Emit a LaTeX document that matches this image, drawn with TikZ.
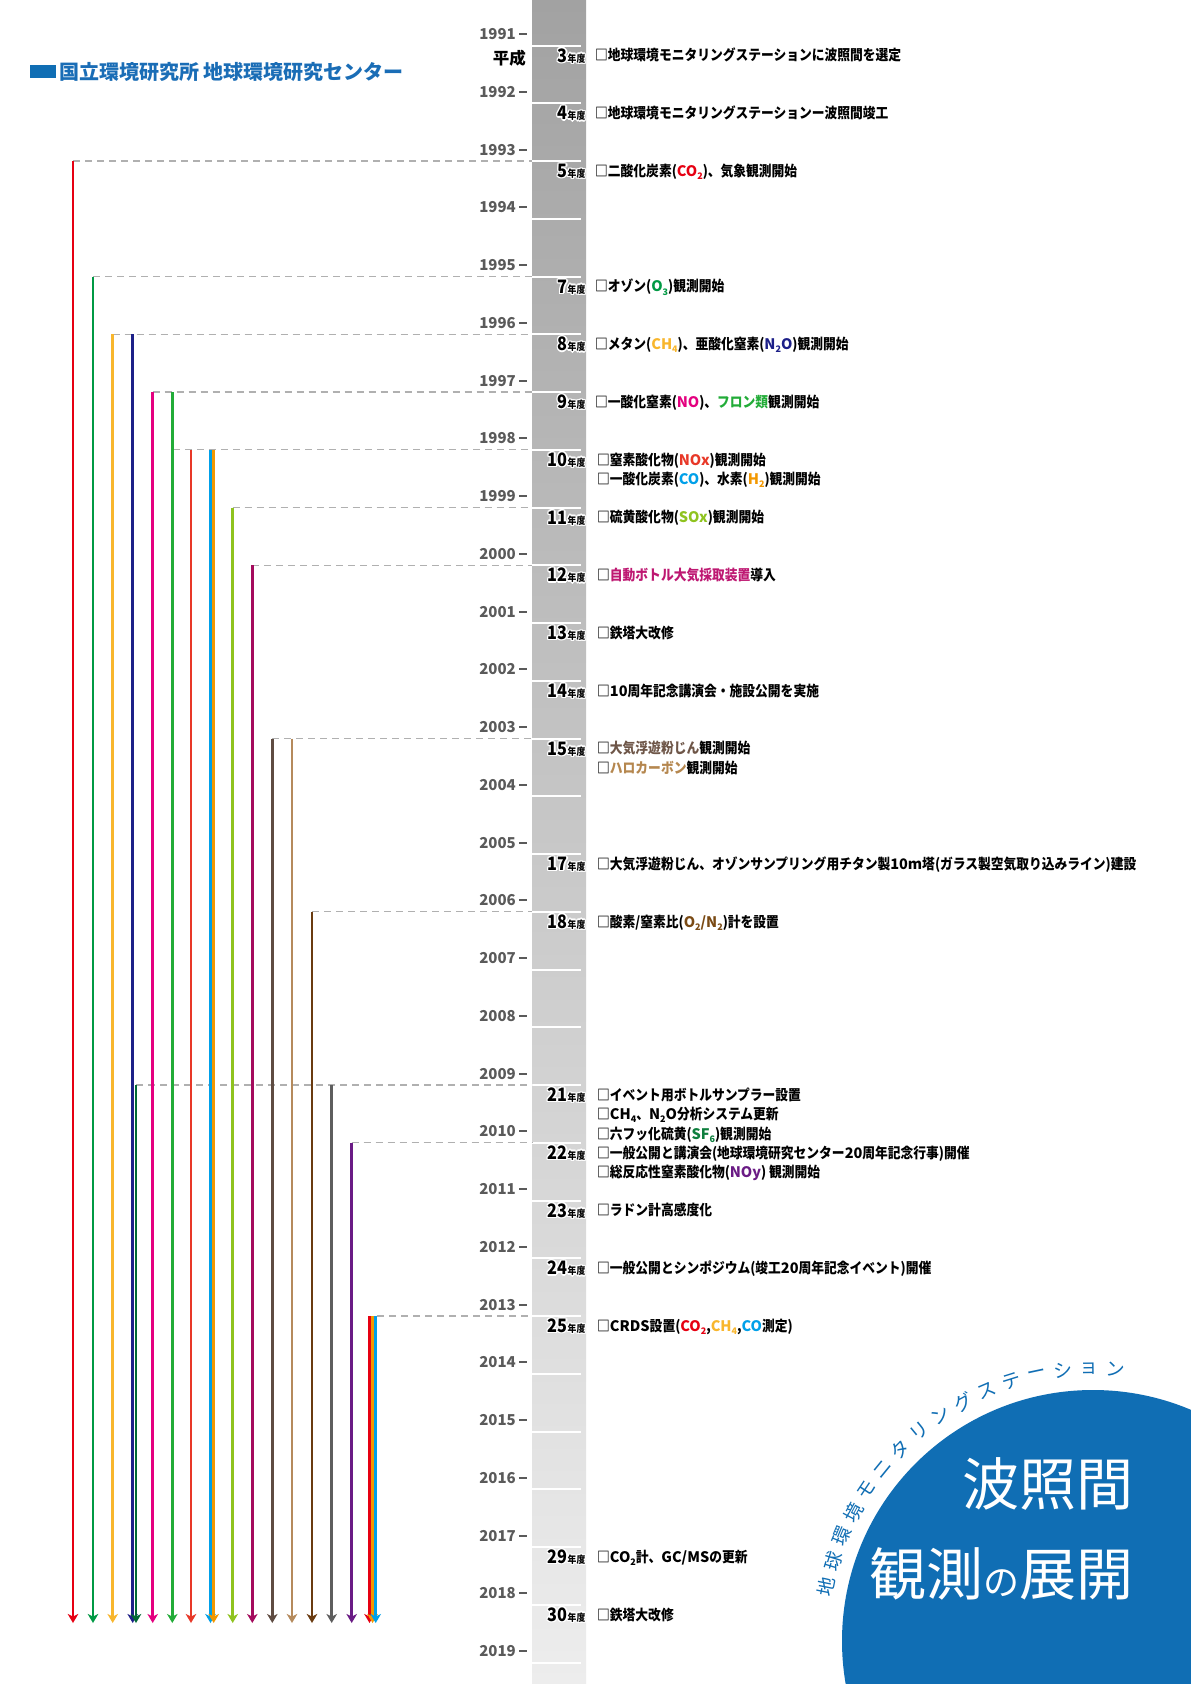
\documentclass[tikz,border=0pt]{standalone}
\usepackage{fontspec}
\setmainfont{Noto Sans CJK JP}
\newfontfamily\jpn{Noto Sans CJK JP}[FakeStretch=0.88]
\newfontfamily\jpw{Noto Sans CJK JP}
\usetikzlibrary{arrows.meta}
\definecolor{cblue}{HTML}{106EB4}
\definecolor{tblue}{HTML}{1A6DB6}
\definecolor{cRed}{HTML}{E60012}
\definecolor{cGreenA}{HTML}{009944}
\definecolor{cOrangeY}{HTML}{F8B62D}
\definecolor{cNavy}{HTML}{1D2088}
\definecolor{cMag}{HTML}{E4007F}
\definecolor{cGreenB}{HTML}{22AC38}
\definecolor{cRedB}{HTML}{E83828}
\definecolor{cCyan}{HTML}{00A0E9}
\definecolor{cOrange}{HTML}{F39800}
\definecolor{cYG}{HTML}{8FC31F}
\definecolor{cDMag}{HTML}{A40B5D}
\definecolor{cDMagT}{HTML}{BE1872}
\definecolor{cDBrown}{HTML}{5F4C42}
\definecolor{cDBrownT}{HTML}{6E5648}
\definecolor{cTan}{HTML}{B58A5C}
\definecolor{cTanT}{HTML}{B5874F}
\definecolor{cBrown}{HTML}{6A3B10}
\definecolor{cBrownT}{HTML}{7A4A14}
\definecolor{cGray}{HTML}{5E5E5E}
\definecolor{cSF}{HTML}{006934}
\definecolor{cSFT}{HTML}{0E7F3E}
\definecolor{cPurple}{HTML}{6A1B85}
\definecolor{dashgray}{HTML}{B0B0B0}
\definecolor{yeargray}{HTML}{5A5A5A}
\definecolor{barTop}{HTML}{A2A2A2}
\definecolor{barBot}{HTML}{EDEDED}

\newcommand\Lt[1]{{\jpw\bfseries #1}}
\newcommand\dn[1]{\raisebox{-0.4ex}{\fontsize{9}{9}\selectfont #1}}
\newcommand\halo[1]{%
  \setbox0=\hbox{#1}%
  \leavevmode
  \rlap{\color{white}%
    \rlap{\kern-1.4pt\copy0}\rlap{\kern1.4pt\copy0}%
    \rlap{\raise1.4pt\copy0}\rlap{\lower1.4pt\copy0}%
    \rlap{\kern-1pt\raise1pt\copy0}\rlap{\kern1pt\raise1pt\copy0}%
    \rlap{\kern-1pt\lower1pt\copy0}\rlap{\kern1pt\lower1pt\copy0}}%
  \box0}
\newcommand\nen[1]{\halo{{\fontsize{18.5}{18.5}\selectfont #1}{\fontsize{10}{10}\selectfont 年度}}}

\begin{document}
\begin{tikzpicture}[x=1pt,y=-1pt,
  vline/.style={line width=2.9pt,-{Stealth[length=9pt,width=10.5pt,inset=2.5pt]}},
  dline/.style={dashgray,line width=1.2pt,dash pattern=on 7pt off 5pt},
  sepline/.style={white,line width=2pt},
  yr/.style={anchor=base east,inner sep=0pt,yshift=-5.5pt,text=yeargray,font=\bfseries\fontsize{15}{15}\selectfont},
  ytick/.style={yeargray,line width=2pt},
  ev/.style={anchor=base west,inner sep=0pt,yshift=-5.4pt,font=\jpn\bfseries\fontsize{14.5}{16}\selectfont},
  nenlab/.style={anchor=base east,inner sep=0pt,yshift=-6.5pt,font=\jpn\bfseries},
  arcch/.style={inner sep=0pt,text=cblue,font=\fontsize{19}{19}\selectfont},
  bigtxt/.style={anchor=base east,inner sep=0pt,text=white,font=\fontsize{57}{57}\selectfont}]

\path[fill=white] (0,0) rectangle (1191,1684);
\useasboundingbox (0,0) rectangle (1191,1684);

% title
\fill[cblue] (30,65) rectangle (56,78);
\node[anchor=base west,inner sep=0pt,yshift=-7.5pt,text=tblue,font=\bfseries\fontsize{20}{20}\selectfont] (title) at (59,72) {国立環境研究所 地球環境研究センター};

% gray bar
\shade[top color=barTop,bottom color=barBot] (532,0) rectangle (586,1684);
\foreach \k in {0,...,28} {
  \draw[sepline] (532,{45.5+\k*57.75}) -- (581,{45.5+\k*57.75});
  \pgfmathtruncatemacro\yy{1991+\k}
  \node[yr] (y\yy) at (516,{34+\k*57.75}) {\yy};
  \draw[ytick] (519,{34+\k*57.75}) -- (527,{34+\k*57.75});
}
\node[anchor=base east,inner sep=0pt,yshift=-6pt,font=\bfseries\fontsize{16.5}{16.5}\selectfont] (heisei) at (526,58) {平成};

% blue circle
\begin{scope}
\clip (0,0) rectangle (1191,1684);
\fill[cblue] (1093,1641) circle (251);
\end{scope}
\foreach \c [count=\i from 0] in {地,球,環,境,モ,ニ,タ,リ,ン,グ,ス,テ,ー,シ,ョ,ン} {
  \pgfmathsetmacro\a{168.5-\i*5.55}
  \node[arcch,rotate=\a-90] (arc\i) at ({1093+272*cos(\a)},{1641-272*sin(\a)}) {\c};
}
\node[bigtxt] (big1) at (1134,1505) {波照間};
\node[bigtxt] (big2) at (1134,1595) {観測{\fontsize{36}{36}\selectfont の}展開};

% dashed guide lines
\foreach \n/\x/\y in {a/73/161, b/93/276.5, c/112.7/334.25, d/152.7/392, e/173/449.75, f/232.7/507.5, g/252.3/565.25, h/272.3/738.5, i/312/911.75, j/136/1085, k/351.7/1142.75, l/377/1316} {
  \coordinate (ds\n) at (\x,\y);
  \coordinate (de\n) at (532,\y);
  \draw[dline] (ds\n) -- (de\n);
}

% vertical arrows
\foreach \n/\x/\y/\c in {0/73/161/cRed, 1/93/276.5/cGreenA, 2/112.7/334.25/cOrangeY, 3/132.7/334.25/cNavy, 4/152.7/392/cMag, 5/172.3/392/cGreenB, 6/191/449.75/cRedB, 7/210.5/449.75/cCyan, 7b/213.7/449.75/cOrange, 8/232.7/507.5/cYG, 9/252.3/565.25/cDMag, 10/272.3/738.5/cDBrown, 11/292/738.5/cTan, 12/312/911.75/cBrown, 3b/136/1085/cSF, 13/331.7/1085/cGray, 14/351.7/1142.75/cPurple, 15a/369.5/1316/cRed, 15b/372.6/1316/cOrange, 15c/375.7/1316/cCyan} {
  \coordinate (s\n) at (\x,\y);
  \coordinate (e\n) at (\x,1623);
  \draw[vline,\c] (s\n) -- (e\n);
}

% nendo labels
\foreach \n/\y in {3/55.5, 4/113.25, 5/171, 7/286.5, 8/344.25, 9/402, 10/459.75, 11/517.5, 12/575.25, 13/633, 14/690.75, 15/748.5, 17/864, 18/921.75, 21/1095, 22/1152.75, 23/1210.5, 24/1268.25, 25/1326, 29/1557, 30/1614.75} {
  \node[nenlab] (n\n) at (585.5,\y) {\nen{\n}};
}

% events
\node[ev] (ev3) at (595,55.5) {□地球環境モニタリングステーションに波照間を選定};
\node[ev] (ev4) at (595,113.25) {□地球環境モニタリングステーションー波照間竣工};
\node[ev] (ev5) at (595,171) {□二酸化炭素(\textcolor{cRed}{\Lt{CO\dn{2}}})、気象観測開始};
\node[ev] (ev7) at (595,286.5) {□オゾン(\textcolor{cGreenA}{\Lt{O\dn{3}}})観測開始};
\node[ev] (ev8) at (595,344.25) {□メタン(\textcolor{cOrangeY}{\Lt{CH\dn{4}}})、亜酸化窒素(\textcolor{cNavy}{\Lt{N\dn{2}O}})観測開始};
\node[ev] (ev9) at (595,402) {□一酸化窒素(\textcolor{cMag}{\Lt{NO}})、\textcolor{cGreenB}{フロン類}観測開始};
\node[ev] (ev10a) at (597,459.75) {□窒素酸化物(\textcolor{cRedB}{\Lt{NOx}})観測開始};
\node[ev] (ev10b) at (597,479.05) {□一酸化炭素(\textcolor{cCyan}{\Lt{CO}})、水素(\textcolor{cOrange}{\Lt{H\dn{2}}})観測開始};
\node[ev] (ev11) at (597,517.5) {□硫黄酸化物(\textcolor{cYG}{\Lt{SOx}})観測開始};
\node[ev] (ev12) at (597,575.25) {□\textcolor{cDMagT}{自動ボトル大気採取装置}導入};
\node[ev] (ev13) at (597,633) {□鉄塔大改修};
\node[ev] (ev14) at (597,690.75) {□\Lt{10}周年記念講演会・施設公開を実施};
\node[ev] (ev15a) at (597,748.5) {□\textcolor{cDBrownT}{大気浮遊粉じん}観測開始};
\node[ev] (ev15b) at (597,767.8) {□\textcolor{cTanT}{ハロカーボン}観測開始};
\node[ev] (ev17) at (597,864) {□大気浮遊粉じん、オゾンサンプリング用チタン製\Lt{10m}塔(ガラス製空気取り込みライン)建設};
\node[ev] (ev18) at (597,921.75) {□酸素/窒素比(\textcolor{cBrownT}{\Lt{O\dn{2}/N\dn{2}}})計を設置};
\node[ev] (ev21a) at (597,1095) {□イベント用ボトルサンプラー設置};
\node[ev] (ev21b) at (597,1114.3) {□\Lt{CH\dn{4}}、\Lt{N\dn{2}O}分析システム更新};
\node[ev] (ev21c) at (597,1133.6) {□六フッ化硫黄(\textcolor{cSFT}{\Lt{SF\dn{6}}})観測開始};
\node[ev] (ev22a) at (597,1152.75) {□一般公開と講演会(地球環境研究センター\Lt{20}周年記念行事)開催};
\node[ev] (ev22b) at (597,1172.05) {□総反応性窒素酸化物(\textcolor{cPurple}{\Lt{NOy}}) 観測開始};
\node[ev] (ev23) at (597,1210.5) {□ラドン計高感度化};
\node[ev] (ev24) at (597,1268.25) {□一般公開とシンポジウム(竣工\Lt{20}周年記念イベント)開催};
\node[ev] (ev25) at (597,1326) {□\Lt{CRDS}設置(\textcolor{cRed}{\Lt{CO\dn{2}}},\textcolor{cOrangeY}{\Lt{CH\dn{4}}},\textcolor{cCyan}{\Lt{CO}}測定)};
\node[ev] (ev29) at (597,1557) {□\Lt{CO\dn{2}}計、\Lt{GC/MS}の更新};
\node[ev] (ev30) at (597,1614.75) {□鉄塔大改修};
\end{tikzpicture}
\end{document}
